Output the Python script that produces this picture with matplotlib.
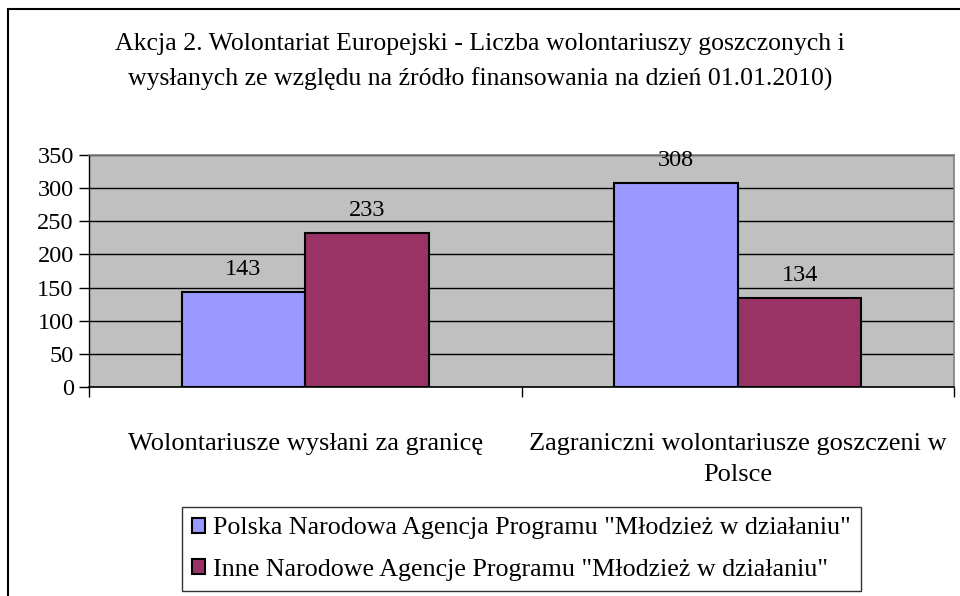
import numpy as np
import matplotlib.pyplot as plt
from matplotlib.patches import Rectangle

plt.rcParams['font.family'] = ['Liberation Serif', 'DejaVu Serif']

# Chart data
categories = ['Wolontariusze wysłani za granicę',
              'Zagraniczni wolontariusze goszczeni w\nPolsce']
series_names = ['Polska Narodowa Agencja Programu "Młodzież w działaniu"',
                'Inne Narodowe Agencje Programu "Młodzież w działaniu"']
polska = [143, 308]
inne = [233, 134]
title = ('Akcja 2. Wolontariat Europejski - Liczba wolontariuszy goszczonych i\n'
         'wysłanych ze względu na źródło finansowania na dzień 01.01.2010)')

colors = ['#9999FF', '#993366']

fig = plt.figure(figsize=(9.6, 5.96), dpi=100)
ax = fig.add_axes([89 / 960, 1 - 387 / 596, 865 / 960, 232 / 596])
ax.set_facecolor('#C0C0C0')

x = np.arange(len(categories))
w = 0.286
for i, (vals, name) in enumerate(zip([polska, inne], series_names)):
    pos = x + (i - 0.5) * w
    bars = ax.bar(pos, vals, width=w, color=colors[i], edgecolor='black',
                  linewidth=1.5, label=name, zorder=3)
    for b, v in zip(bars, vals):
        ax.text(b.get_x() + b.get_width() / 2, v + 18, str(v),
                ha='center', va='bottom', fontsize=17.5)

ax.set_xlim(-0.5, len(categories) - 0.5)
ax.set_ylim(0, 350)
ax.set_yticks(np.arange(0, 351, 50))
ax.yaxis.grid(True, color='black', linewidth=1.0, zorder=0)
ax.set_axisbelow(True)

# category labels between boundary ticks
ax.set_xticks([-0.5, 0.5, 1.5])
ax.set_xticklabels([])
ax.set_xticks(x, minor=True)
ax.set_xticklabels(categories, minor=True, fontsize=19, linespacing=1.55)
ax.tick_params(axis='x', which='minor', length=0, pad=33)
ax.tick_params(axis='x', which='major', length=7, width=1.0, direction='out')
ax.tick_params(axis='y', length=7, width=1.0, direction='out', labelsize=17.5, pad=4)

for side in ['top', 'right']:
    ax.spines[side].set_color('#808080')
    ax.spines[side].set_linewidth(1.2)
ax.spines['left'].set_color('black')
ax.spines['bottom'].set_color('black')
ax.spines['left'].set_linewidth(1.0)
ax.spines['bottom'].set_linewidth(1.2)

fig.text(0.5, 1 - 62 / 596, title, ha='center', va='center', fontsize=18.5,
         linespacing=1.65)

leg = fig.legend(loc='upper left', bbox_to_anchor=(182 / 960, 1 - 507 / 596),
                 fontsize=18.7, frameon=True, fancybox=False, handlelength=0.5,
                 handleheight=0.5, handletextpad=0.3, borderpad=0.4,
                 labelspacing=0.75, borderaxespad=0)
leg.get_frame().set_edgecolor('black')
leg.get_frame().set_linewidth(1.0)

# outer chart frame (cropped on right and bottom)
fig.patches.append(Rectangle((8 / 960, -0.1), 1.2, 1 - 9 / 596 + 0.1,
                             transform=fig.transFigure, fill=False,
                             edgecolor='black', linewidth=1.5))

fig.savefig('out.png', dpi=100)
